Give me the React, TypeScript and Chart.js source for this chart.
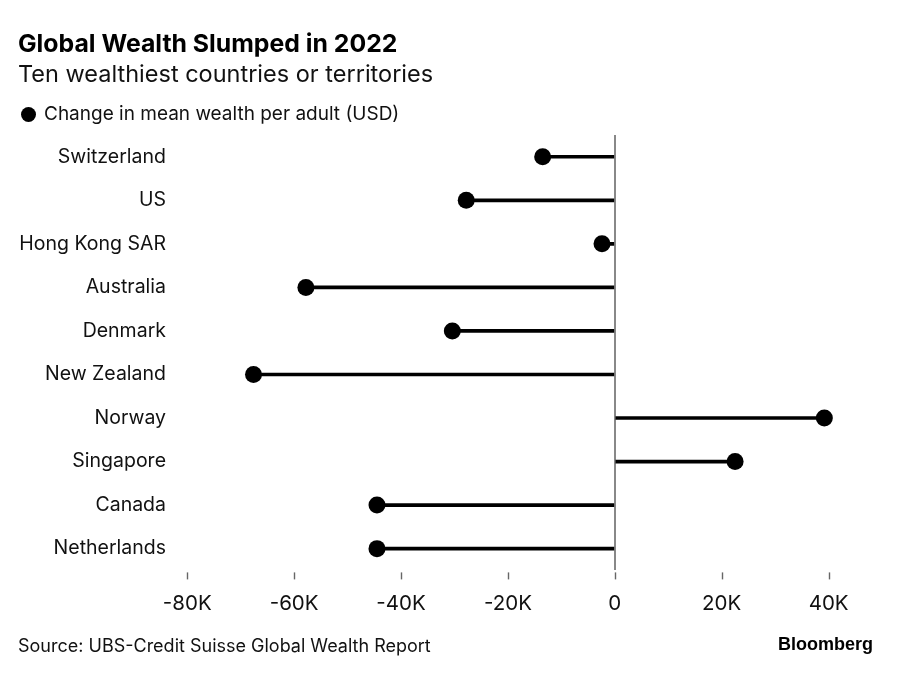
import React, { useEffect, useRef } from 'react';
import { Chart, registerables } from 'chart.js';

Chart.register(...registerables);

const categories = [
  'Switzerland',
  'US',
  'Hong Kong SAR',
  'Australia',
  'Denmark',
  'New Zealand',
  'Norway',
  'Singapore',
  'Canada',
  'Netherlands',
];

const wealthChange = [-13500, -27800, -2400, -57800, -30400, -67600, 39200, 22500, -44500, -44500];

const xTickValues = [-80000, -60000, -40000, -20000, 0, 20000, 40000];
const xTickLabels = ['-80K', '-60K', '-40K', '-20K', '0', '20K', '40K'];

const FONT = 'Inter, "Liberation Sans", Arial, sans-serif';
const LOGO_FONT = '"Liberation Sans", Arial, sans-serif';

export default function App() {
  const ref = useRef<HTMLCanvasElement>(null);

  useEffect(() => {
    if (!ref.current) return;
    const tickMarks = {
      id: 'tickMarks',
      afterDraw(chart: any) {
        const { ctx, chartArea, scales } = chart;
        const x = scales.x;
        ctx.save();
        ctx.strokeStyle = '#666';
        ctx.lineWidth = 1.4;
        x.ticks.forEach((t: any) => {
          const px = Math.round(x.getPixelForValue(t.value)) + 0.5;
          ctx.beginPath();
          ctx.moveTo(px, chartArea.bottom + 2);
          ctx.lineTo(px, chartArea.bottom + 9);
          ctx.stroke();
        });
        ctx.restore();
      },
    };

    const chart = new Chart(ref.current, {
      type: 'bar',
      data: {
        labels: categories,
        datasets: [
          {
            type: 'bar',
            data: wealthChange,
            backgroundColor: '#000',
            barThickness: 3,
            indexAxis: 'y',
            order: 2,
          } as any,
          {
            type: 'line',
            data: wealthChange,
            showLine: false,
            pointRadius: 8.5,
            pointHoverRadius: 8.5,
            pointBackgroundColor: '#000',
            pointBorderColor: '#000',
            pointBorderWidth: 0,
            indexAxis: 'y',
            order: 1,
          } as any,
        ],
      },
      options: {
        indexAxis: 'y',
        responsive: false,
        animation: false,
        layout: { padding: { top: 135, right: 58, bottom: 43, left: 0 } },
        plugins: { legend: { display: false }, tooltip: { enabled: false } },
        scales: {
          x: {
            type: 'linear',
            min: -83600,
            max: 44000,
            afterBuildTicks: (s: any) => {
              s.ticks = xTickValues.map((v) => ({ value: v }));
            },
            grid: {
              drawTicks: false,
              color: (c: any) => (c.tick && c.tick.value === 0 ? '#888' : 'rgba(0,0,0,0)'),
              lineWidth: 2,
            },
            border: { display: false },
            ticks: {
              padding: 21,
              color: '#111',
              font: { family: FONT, size: 20.5 },
              maxRotation: 0,
              autoSkip: false,
              callback: (_v: any, i: number) => xTickLabels[i],
            },
          },
          y: {
            afterFit: (s: any) => {
              s.width = 168;
            },
            grid: { display: false, drawTicks: false },
            border: { display: false },
            ticks: { padding: 2, color: '#111', font: { family: FONT, size: 19.5 } },
          },
        },
      } as any,
      plugins: [tickMarks],
    });
    return () => chart.destroy();
  }, []);

  const text: React.CSSProperties = {
    position: 'absolute',
    fontFamily: FONT,
    lineHeight: 1,
    whiteSpace: 'nowrap',
    color: '#111',
  };

  return (
    <div style={{ position: 'absolute', left: 0, top: 0, width: 908, height: 680, background: '#fff' }}>
      <canvas ref={ref} width={908} height={680} style={{ position: 'absolute', left: 0, top: 0 }} />
      <div style={{ ...text, left: 18, top: 30.5, fontSize: 24.8, fontWeight: 700, color: '#000' }}>
        Global Wealth Slumped in 2022
      </div>
      <div style={{ ...text, left: 18, top: 61.5, fontSize: 23.5 }}>Ten wealthiest countries or territories</div>
      <div style={{ position: 'absolute', left: 21, top: 107, width: 15, height: 15, borderRadius: 8, background: '#000' }} />
      <div style={{ ...text, left: 44, top: 103.5, fontSize: 19 }}>Change in mean wealth per adult (USD)</div>
      <div style={{ ...text, left: 18, top: 637, fontSize: 18 }}>Source: UBS-Credit Suisse Global Wealth Report</div>
      <div style={{ ...text, fontFamily: LOGO_FONT, left: 778, top: 635, fontSize: 18, fontWeight: 700, color: '#000' }}>
        Bloomberg
      </div>
    </div>
  );
}
